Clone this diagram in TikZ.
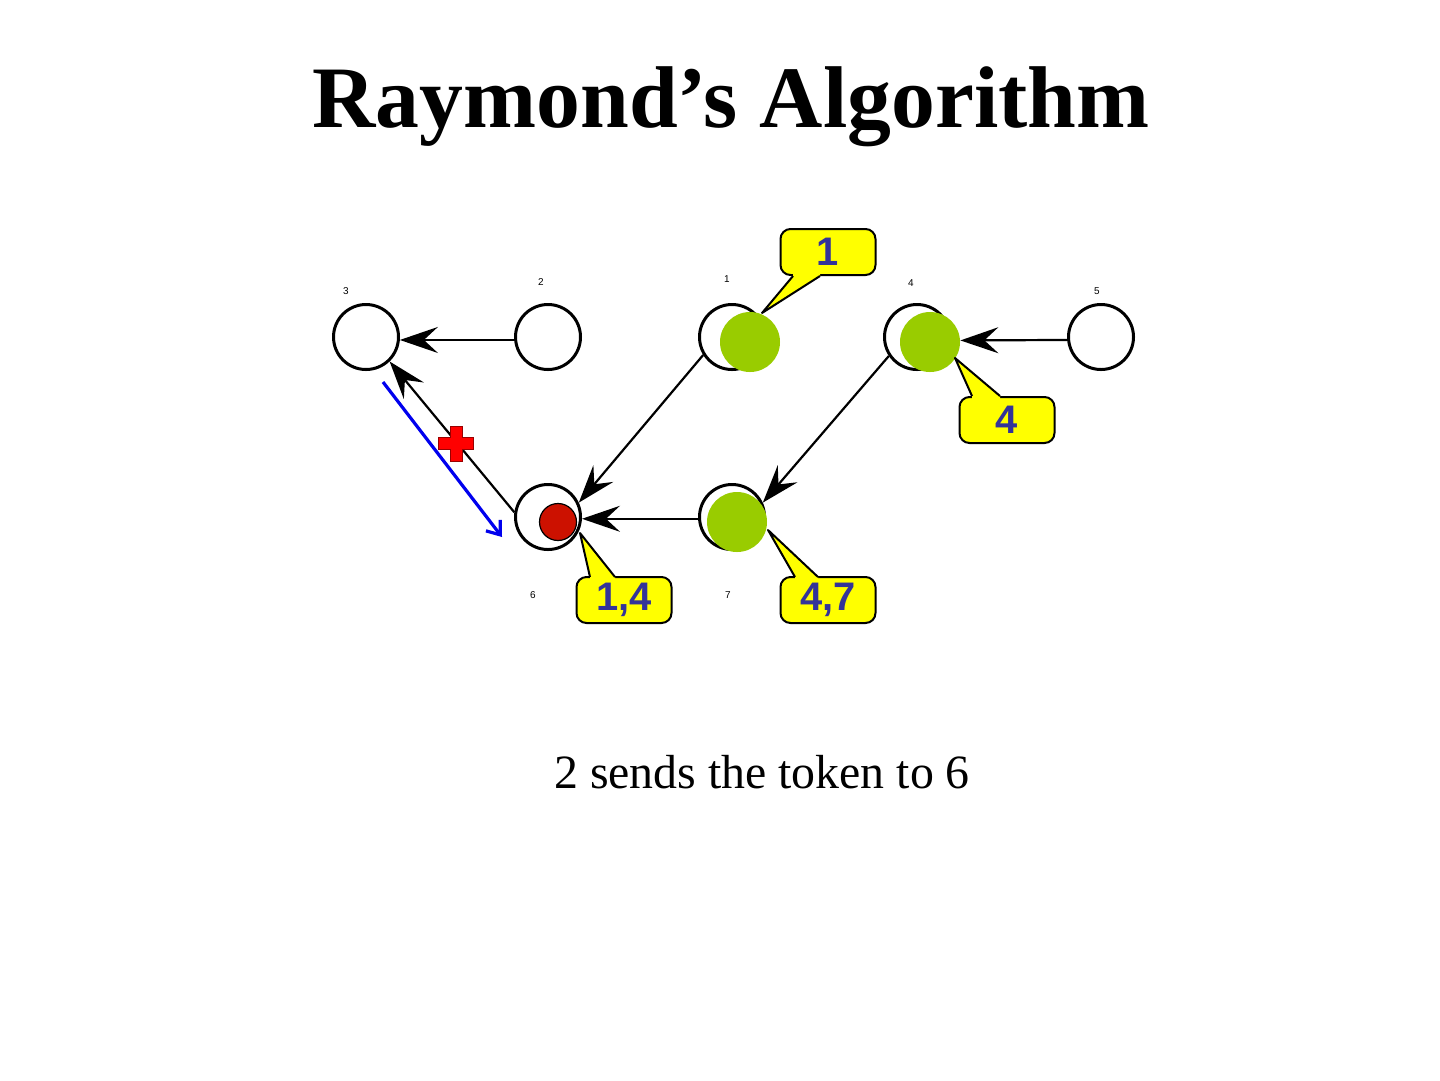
\documentclass[tikz,border=0pt]{standalone}
\usepackage{fontspec}
\setmainfont{Liberation Serif}
\newfontfamily\arialfont{Liberation Sans}
\usetikzlibrary{arrows.meta}
\definecolor{leaf}{HTML}{99CC00}
\definecolor{tokred}{HTML}{CC1100}
\definecolor{callyellow}{HTML}{FFFF00}
\definecolor{calltext}{HTML}{333399}
\definecolor{sendblue}{HTML}{0000EE}
\definecolor{crossred}{HTML}{FF0000}
\begin{document}
\begin{tikzpicture}[x=0.5bp,y=-0.5bp,
  vtx/.style={circle,draw,line width=1.5bp,minimum size=32.5bp,inner sep=0pt,fill=white},
  greendisk/.style={circle,fill=leaf,minimum size=30bp,inner sep=0pt},
  reddisk/.style={circle,fill=tokred,draw,line width=0.6bp,minimum size=18.5bp,inner sep=0pt},
  edge/.style={line width=1.1bp,-{Stealth[length=19bp,width=13bp,inset=7bp]}},
  lbl/.style={font=\arialfont\fontsize{5}{6}\selectfont,inner sep=0pt},
  callbox/.style={draw,line width=1bp,fill=callyellow,rounded corners=5bp,minimum width=47.5bp,minimum height=23bp,inner sep=0pt,font=\arialfont\bfseries\fontsize{20}{24}\selectfont,text=calltext},
  pointerfill/.style={fill=callyellow},
  pointerline/.style={line width=1bp,line join=round},
  sendarrow/.style={sendblue,line width=1.6bp,-{Straight Barb[length=6bp,width=9bp,line width=1.6bp]}}
]
\useasboundingbox (0,0) rectangle (1440,1080);

% title and caption
\node[font=\bfseries\fontsize{44}{50}\selectfont,anchor=base,inner sep=0pt] (title) at (731,127) {Raymond’s Algorithm};
\node[font=\fontsize{24}{28}\selectfont,anchor=base,inner sep=0pt] (caption) at (762,788) {2 sends the token to 6};

% vertices
\node[vtx] (n3) at (366,337) {};
\node[vtx] (n2) at (548,337) {};
\node[vtx] (n1) at (732,337) {};
\node[vtx] (n4) at (917,337) {};
\node[vtx] (n5) at (1101,337) {};
\node[vtx] (n6) at (548,517) {};
\node[vtx] (n7) at (732,517) {};

% vertex labels
\node[lbl] (l3) at (346,291) {3};
\node[lbl] (l2) at (541,282) {2};
\node[lbl] (l1) at (727,279) {1};
\node[lbl] (l4) at (911,283) {4};
\node[lbl] (l5) at (1097,291) {5};
\node[lbl] (l6) at (533,595) {6};
\node[lbl] (l7) at (728,595) {7};

% requesting / token disks
\node[greendisk] (g1) at (750,342) {};
\node[greendisk] (g4) at (930,342) {};
\node[greendisk] (g7) at (737,522) {};
\node[reddisk] (r6) at (558,522) {};

% edges
\draw[edge] (n2.185) -- (n3.355);
\draw[edge] (n5.185) -- (g4.3);
\draw[edge] (n1.212) -- (n6.25);
\draw[edge] (n4.214) -- (n7.25);
\draw[edge] (n7.183) -- (n6.357);
\draw[edge] (n6.172) -- (n3.314);

% token transfer arrow
\coordinate (bs) at (383,382);
\coordinate (be) at (502,537);
\draw[sendarrow] (bs) -- (be);

% red cross
\filldraw[fill=crossred,draw=crossred!60!black,line width=0.5bp]
  (450,426) -- (462,426) -- (462,437) -- (473,437) -- (473,449) -- (462,449) --
  (462,461) -- (450,461) -- (450,449) -- (438,449) -- (438,437) -- (450,437) -- cycle;

% callout "1"
\node[callbox] (c1) at (828,252) {1};
\coordinate (t1) at (762,313);
\fill[pointerfill] (793,272) -- (793,276) -- (t1) -- (820,276) -- (820,272) -- cycle;
\draw[pointerline] (793,276) -- (t1) -- (820,276);

% callout "4"
\node[callbox] (c4) at (1007,420) {4};
\coordinate (t4) at (955,358);
\fill[pointerfill] (972,400) -- (972,396) -- (t4) -- (1000,396) -- (1000,400) -- cycle;
\draw[pointerline] (972,396) -- (t4) -- (1000,396);

% callout "1,4"
\node[callbox] (c14) at (624,600) {1,4};
\coordinate (t14) at (580,533);
\fill[pointerfill] (590,581) -- (590,577) -- (t14) -- (615,577) -- (615,581) -- cycle;
\draw[pointerline] (590,577) -- (t14) -- (615,577);

% callout "4,7"
\node[callbox] (c47) at (828,600) {4,7};
\coordinate (t47) at (768,530);
\fill[pointerfill] (795,581) -- (795,577) -- (t47) -- (818,577) -- (818,581) -- cycle;
\draw[pointerline] (795,577) -- (t47) -- (818,577);
\end{tikzpicture}
\end{document}
